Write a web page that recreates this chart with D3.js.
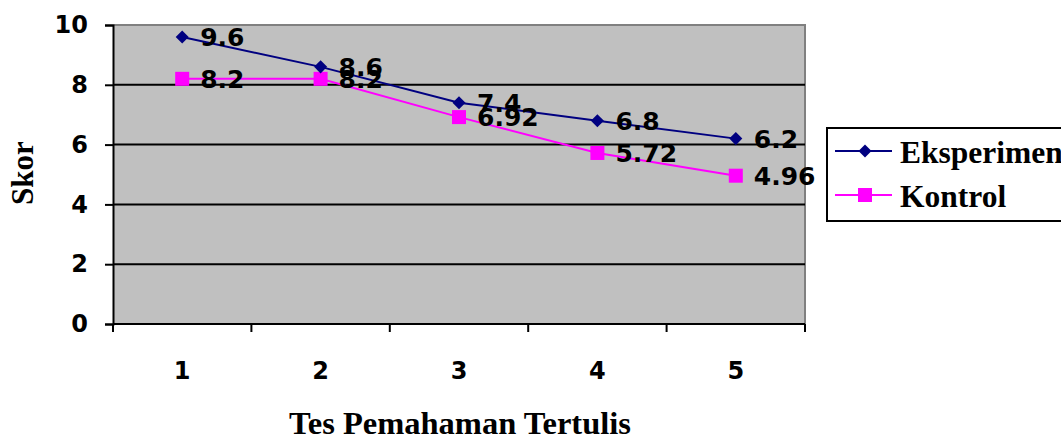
<!DOCTYPE html>
<html><head><meta charset="utf-8">
<script src="https://cdn.jsdelivr.net/npm/d3@7"></script>
<style>html,body{margin:0;padding:0;background:#fff;overflow:hidden}</style>
</head><body>
<svg id="chart" width="1061" height="441"></svg>
<script>
const categories = ["1", "2", "3", "4", "5"];
const eksperimen = [9.6, 8.6, 7.4, 6.8, 6.2];
const kontrol = [8.2, 8.2, 6.92, 5.72, 4.96];
const yTicks = [0, 2, 4, 6, 8, 10];
const seriesNames = ["Eksperimen", "Kontrol"];

const svg = d3.select("#chart");
const L = 113, R = 805, T = 25, B = 324;
const x = d3.scaleBand().domain(categories).range([L, R]);
const y = d3.scaleLinear().domain([0, 10]).range([B, T]);
const sans = "'DejaVu Sans', sans-serif";
const serif = "'Liberation Serif', 'Times New Roman', serif";

svg.append("rect").attr("x", L).attr("y", T).attr("width", R - L).attr("height", B - T).attr("fill", "#C0C0C0");
// gray top/right border
svg.append("path").attr("d", `M${L},${y(10)}H${R}V${B}`).attr("fill", "none").attr("stroke", "#808080").attr("stroke-width", 2);
// gridlines
svg.append("g").selectAll("line").data(yTicks.filter(t => t > 0 && t < 10)).join("line")
  .attr("x1", L).attr("x2", R).attr("y1", d => y(d)).attr("y2", d => y(d))
  .attr("stroke", "#000").attr("stroke-width", 2);

// y axis
const yAxis = svg.append("g").attr("transform", `translate(${L},0)`)
  .call(d3.axisLeft(y).tickValues(yTicks).tickSize(8).tickPadding(17).tickFormat(d3.format("d")));
yAxis.select(".domain").attr("stroke", "#000").attr("stroke-width", 2);
yAxis.selectAll(".tick line").attr("stroke", "#000").attr("stroke-width", 2);
yAxis.selectAll("text").attr("font-family", sans).attr("font-weight", "bold").attr("font-size", 24).attr("fill", "#000");

// x axis (labels)
const xAxis = svg.append("g").attr("transform", `translate(0,${B})`)
  .call(d3.axisBottom(x).tickSize(0).tickPadding(38));
xAxis.select(".domain").attr("stroke", "#000").attr("stroke-width", 2).attr("d", `M${L},0H${R}`);
xAxis.selectAll("text").attr("font-family", sans).attr("font-weight", "bold").attr("font-size", 24).attr("fill", "#000");
// boundary ticks
const bounds = categories.map(c => x(c)).concat([x(categories[categories.length - 1]) + x.bandwidth()]);
svg.append("g").selectAll("line").data(bounds).join("line")
  .attr("x1", d => d).attr("x2", d => d).attr("y1", B).attr("y2", B + 8)
  .attr("stroke", "#000").attr("stroke-width", 2);

const cx = c => x(c) + x.bandwidth() / 2;
const line = d3.line().x((d, i) => cx(categories[i])).y(d => y(d));

// series
svg.append("path").datum(kontrol).attr("d", line).attr("fill", "none").attr("stroke", "#FF00FF").attr("stroke-width", 2);
svg.append("path").datum(eksperimen).attr("d", line).attr("fill", "none").attr("stroke", "#000080").attr("stroke-width", 2);

svg.append("g").selectAll("rect").data(kontrol).join("rect")
  .attr("x", (d, i) => cx(categories[i]) - 7).attr("y", d => y(d) - 7).attr("width", 14).attr("height", 14).attr("fill", "#FF00FF");
svg.append("g").selectAll("path").data(eksperimen).join("path")
  .attr("transform", (d, i) => `translate(${cx(categories[i])},${y(d)}) rotate(45)`)
  .attr("d", d3.symbol().type(d3.symbolSquare).size(85)).attr("fill", "#000080");

// labels
function labels(data) {
  svg.append("g").selectAll("text").data(data).join("text")
    .attr("x", (d, i) => cx(categories[i]) + 18).attr("y", d => y(d)).attr("dy", "0.36em")
    .attr("font-family", sans).attr("font-weight", "bold").attr("font-size", 25).attr("fill", "#000")
    .text(d => d);
}
labels(eksperimen);
labels(kontrol);

// axis titles
svg.append("text").attr("transform", `translate(33,173) rotate(-90)`).attr("text-anchor", "middle")
  .attr("font-family", serif).attr("font-weight", "bold").attr("font-size", 31).text("Skor");
svg.append("text").attr("x", 460).attr("y", 434).attr("text-anchor", "middle")
  .attr("font-family", serif).attr("font-weight", "bold").attr("font-size", 32.5).text("Tes Pemahaman Tertulis");

// legend
const lg = svg.append("g");
lg.append("rect").attr("x", 827).attr("y", 128).attr("width", 260).attr("height", 93).attr("fill", "#fff").attr("stroke", "#000").attr("stroke-width", 2);
const colors = ["#000080", "#FF00FF"];
seriesNames.forEach((n, i) => {
  const yy = 151 + i * 44;
  lg.append("line").attr("x1", 835).attr("x2", 892).attr("y1", yy).attr("y2", yy).attr("stroke", colors[i]).attr("stroke-width", 2);
  if (i === 0) lg.append("path").attr("transform", `translate(865,${yy}) rotate(45)`).attr("d", d3.symbol().type(d3.symbolSquare).size(85)).attr("fill", colors[i]);
  else lg.append("rect").attr("x", 858).attr("y", yy - 7).attr("width", 14).attr("height", 14).attr("fill", colors[i]);
  lg.append("text").attr("x", 900).attr("y", yy + 12).attr("font-family", serif).attr("font-weight", "bold").attr("font-size", 31.5).text(n);
});
</script>
</body></html>
